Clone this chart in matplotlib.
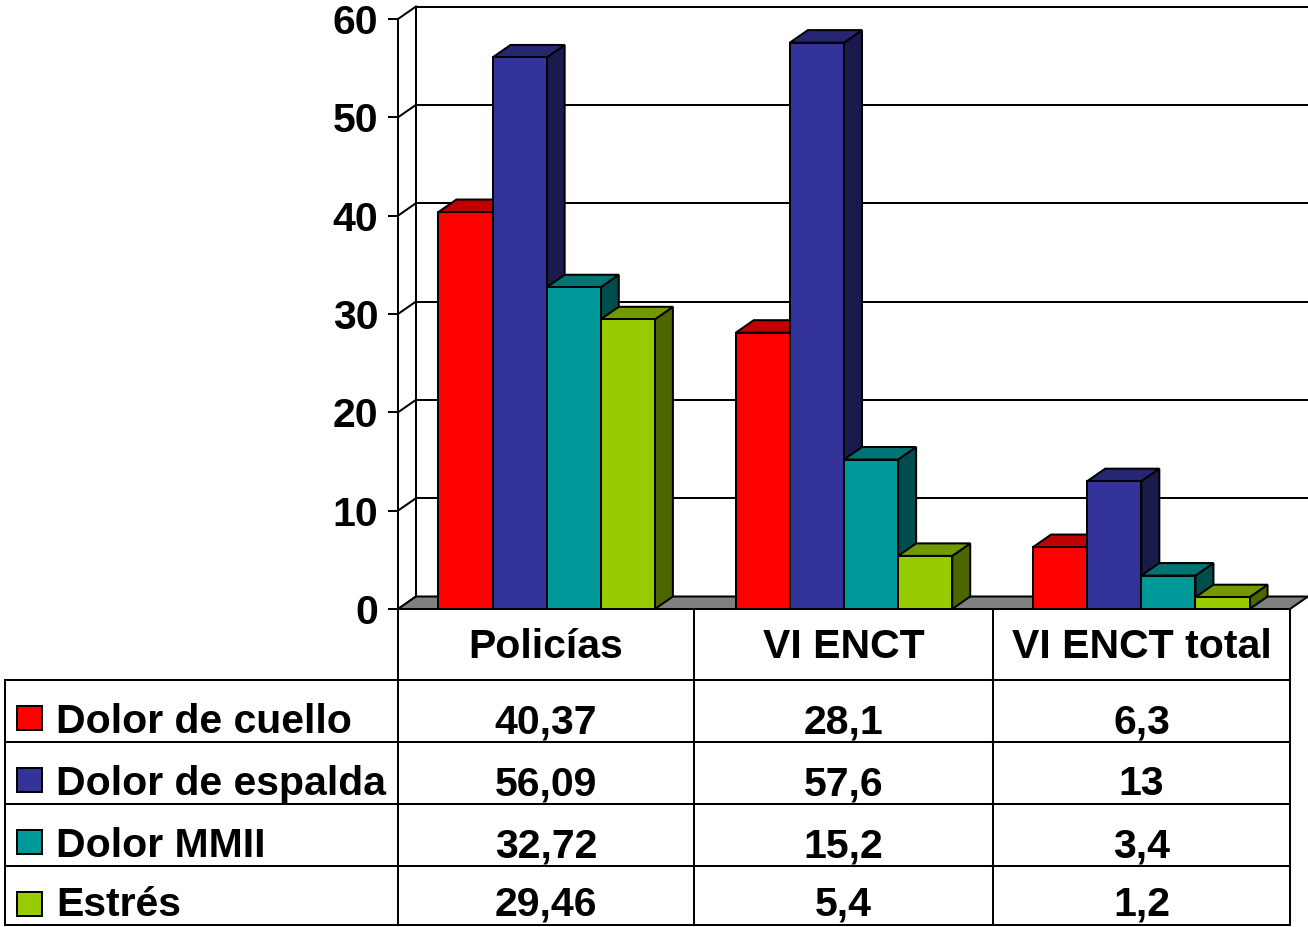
import matplotlib
matplotlib.use('Agg')
import matplotlib.pyplot as plt
from matplotlib.patches import Polygon, Rectangle

categories = ['Policías', 'VI ENCT', 'VI ENCT total']
series = ['Dolor de cuello', 'Dolor de espalda', 'Dolor MMII', 'Estrés']
cuello = [40.37, 28.1, 6.3]
espalda = [56.09, 57.6, 13]
mmii = [32.72, 15.2, 3.4]
estres = [29.46, 5.4, 1.2]
values = [cuello, espalda, mmii, estres]
yticks = [0, 10, 20, 30, 40, 50, 60]

front_colors = ['#FF0000', '#333399', '#009999', '#99CC00']
top_colors = ['#C00000', '#262673', '#007373', '#739900']
side_colors = ['#800000', '#1A1A4D', '#004D4D', '#4D6600']

plt.rcParams['font.family'] = ['Liberation Sans', 'DejaVu Sans']
plt.rcParams['font.weight'] = 'bold'
FS = 29.5
LW = 1.45

W, H = 1308, 927
fig = plt.figure(figsize=(W / 100, H / 100), dpi=100)

# front plane of the chart, in pixels
x0, x1 = 398, 1290
y0, y1 = 609, 19
ax = fig.add_axes([x0 / W, 1 - y0 / H, (x1 - x0) / W, (y0 - y1) / H])
ax.set_xlim(0, 3)
ax.set_ylim(0, 60)

# depth offset (pixels -> data units)
dx = 18 / ((x1 - x0) / 3)
dy = 12.5 / ((y0 - y1) / 60)

# back wall + left wall
for t in yticks:
    ax.plot([dx, 3 + dx], [t + dy, t + dy], color='k', lw=LW, clip_on=False, zorder=1)
    ax.plot([0, dx], [t, t + dy], color='k', lw=LW, clip_on=False, zorder=1)
ax.plot([dx, dx], [dy, 60 + dy], color='k', lw=LW, clip_on=False, zorder=1)

# floor
ax.add_patch(Polygon([(0, 0), (3, 0), (3 + dx, dy), (dx, dy)], closed=True,
                     facecolor='#808080', edgecolor='k', lw=LW, clip_on=False, zorder=2))

# bars
w = 0.182
for i in range(len(categories)):
    for j, vals in enumerate(values):
        h = vals[i]
        xl = i + 0.5 + (j - 2) * w
        z = 3 + j * 0.1
        ax.add_patch(Polygon([(xl + w, 0), (xl + w + dx, dy), (xl + w + dx, h + dy), (xl + w, h)],
                             closed=True, facecolor=side_colors[j], edgecolor='k', lw=LW,
                             clip_on=False, zorder=z))
        ax.add_patch(Polygon([(xl, h), (xl + w, h), (xl + w + dx, h + dy), (xl + dx, h + dy)],
                             closed=True, facecolor=top_colors[j], edgecolor='k', lw=LW,
                             clip_on=False, zorder=z))
        ax.bar(xl, h, width=w, align='edge', color=front_colors[j], edgecolor='k',
               linewidth=LW, clip_on=False, zorder=z + 0.01)

for s in ['top', 'right', 'bottom']:
    ax.spines[s].set_visible(False)
ax.spines['left'].set_linewidth(LW)
ax.spines['left'].set_zorder(2.5)
ax.set_facecolor('none')
ax.set_xticks([])
ax.set_yticks(yticks)
ax.tick_params(axis='y', direction='out', length=7.2, width=LW, pad=7, labelsize=FS)
for lab in ax.get_yticklabels():
    lab.set_fontweight('bold')

# data table below the chart (pixel coordinates)
tab = fig.add_axes([0, 0, 1, 1], zorder=-1)
tab.set_xlim(0, W)
tab.set_ylim(H, 0)
tab.axis('off')

cols = [398, 694, 993, 1290]
rows = [609, 680, 742, 804, 866, 925]
left = 5

for c in cols:
    tab.plot([c, c], [rows[0], rows[-1]], color='k', lw=LW)
tab.plot([left, left], [rows[1], rows[-1]], color='k', lw=LW)
for r in rows[1:]:
    tab.plot([left, cols[-1]], [r, r], color='k', lw=LW)

for k, cat in enumerate(categories):
    cx = (cols[k] + cols[k + 1]) / 2
    tab.text(cx, 658, cat, ha='center', va='baseline', fontsize=FS, fontweight='bold')

for j, name in enumerate(series):
    top = rows[j + 1]
    base = rows[j + 2] - 9
    tab.add_patch(Rectangle((17, top + 26), 25, 24, facecolor=front_colors[j],
                            edgecolor='k', lw=LW))
    tab.text(56, base, name, ha='left', va='baseline', fontsize=FS, fontweight='bold')
    for k in range(len(categories)):
        cx = (cols[k] + cols[k + 1]) / 2
        txt = f'{values[j][k]:g}'.replace('.', ',')
        tab.text(cx, base, txt, ha='center', va='baseline', fontsize=FS, fontweight='bold')

fig.savefig('out.png', dpi=100)
